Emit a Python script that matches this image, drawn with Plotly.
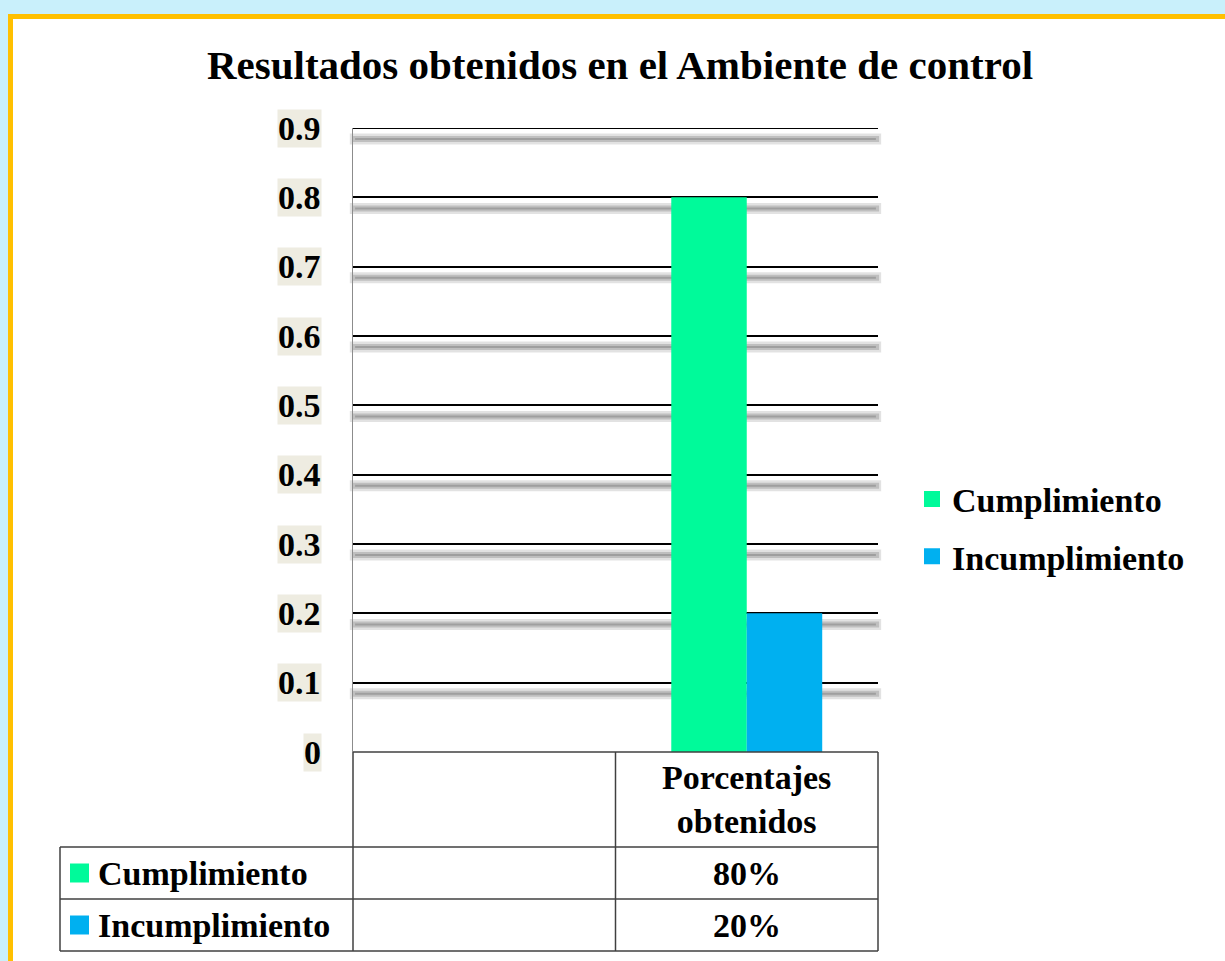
import plotly.graph_objects as go

# ---- data ----
categories = [" ", "Porcentajes obtenidos"]
series_names = ["Cumplimiento", "Incumplimiento"]
cumplimiento = [None, 0.80]
incumplimiento = [None, 0.20]
y_ticks = [0, 0.1, 0.2, 0.3, 0.4, 0.5, 0.6, 0.7, 0.8, 0.9]
y_tick_labels = ["0", "0.1", "0.2", "0.3", "0.4", "0.5", "0.6", "0.7", "0.8", "0.9"]
title_text = "Resultados obtenidos en el Ambiente de control"

colors = ["#00FA9A", "#00B0F0"]
FONT = "Liberation Serif, Times New Roman, serif"

W, H = 1225, 961
L, R, T, B = 353, 878, 128, 752  # plot area in px


def px2x(px):
    return (px - L) / (R - L)


def px2y(py):
    return (B - py) / (B - T)


fig = go.Figure()
values = [cumplimiento, incumplimiento]
for name, vals, col in zip(series_names, values, colors):
    fig.add_trace(go.Bar(x=categories, y=vals, name=name, marker=dict(color=col, line=dict(width=0)),
                         showlegend=False, legendgroup=name))
    fig.add_trace(go.Scatter(x=[None], y=[None], mode="markers", name=name, legendgroup=name,
                             marker=dict(symbol="square", size=17, color=col), showlegend=True))

shapes = []
# frame: light blue glow + orange border
shapes.append(dict(type="rect", xref="paper", yref="paper", x0=px2x(0), x1=px2x(W), y0=px2y(0), y1=px2y(14),
                   fillcolor="#C9F0FB", line=dict(width=0), layer="below"))
shapes.append(dict(type="rect", xref="paper", yref="paper", x0=px2x(0), x1=px2x(8), y0=px2y(0), y1=px2y(H),
                   fillcolor="#C9F0FB", line=dict(width=0), layer="below"))
shapes.append(dict(type="line", xref="paper", yref="paper", x0=px2x(8), x1=px2x(W), y0=px2y(16.5), y1=px2y(16.5),
                   line=dict(color="#FFC000", width=5), layer="below"))
shapes.append(dict(type="line", xref="paper", yref="paper", x0=px2x(10.5), x1=px2x(10.5), y0=px2y(14), y1=px2y(H),
                   line=dict(color="#FFC000", width=5), layer="below"))

# gridline shadows
for t in y_ticks[1:]:
    shapes.append(dict(type="line", xref="paper", yref="y", x0=-0.006, x1=1.006, y0=t - 0.016, y1=t - 0.016,
                       line=dict(color="rgba(160,160,160,0.3)", width=11), layer="below"))
    shapes.append(dict(type="line", xref="paper", yref="y", x0=-0.002, x1=1.002, y0=t - 0.016, y1=t - 0.016,
                       line=dict(color="rgba(140,140,140,0.4)", width=6), layer="below"))
    shapes.append(dict(type="line", xref="paper", yref="y", x0=0.004, x1=0.996, y0=t - 0.016, y1=t - 0.016,
                       line=dict(color="rgba(120,120,120,0.45)", width=2), layer="below"))
# top gridline at the range edge
shapes.append(dict(type="line", xref="paper", yref="y", x0=0, x1=1, y0=y_ticks[-1], y1=y_ticks[-1],
                   line=dict(color="black", width=2), layer="below"))

# data table lines
tc = "#404040"
y_hdr = px2y(847)
y_r1 = px2y(899)
y_r2 = px2y(951)
x_left = px2x(60)
for xv in [0, 0.5, 1]:
    shapes.append(dict(type="line", xref="paper", yref="paper", x0=xv, x1=xv, y0=0, y1=y_r2,
                       line=dict(color=tc, width=1.5)))
shapes.append(dict(type="line", xref="paper", yref="paper", x0=x_left, x1=x_left, y0=y_hdr, y1=y_r2,
                   line=dict(color=tc, width=1.5)))
for yv in [y_hdr, y_r1, y_r2]:
    shapes.append(dict(type="line", xref="paper", yref="paper", x0=x_left, x1=1, y0=yv, y1=yv,
                       line=dict(color=tc, width=1.5)))
shapes.append(dict(type="line", xref="paper", yref="paper", x0=0, x1=1, y0=0, y1=0,
                   line=dict(color=tc, width=1.5)))

annotations = []
# y tick labels with beige boxes
for t, lab in zip(y_ticks, y_tick_labels):
    annotations.append(dict(x=0, xref="paper", y=t, yref="y", text=lab, showarrow=False,
                            xanchor="right", yanchor="middle", xshift=-31,
                            bgcolor="#EEECE1", borderpad=0,
                            font=dict(family=FONT, size=34, color="black", weight="bold")))

# table header (category label)
annotations.append(dict(x=categories[1], xref="x", y=(0 + y_hdr) / 2, yref="paper",
                        text="Porcentajes<br>obtenidos", showarrow=False, xanchor="center", yanchor="middle",
                        font=dict(family=FONT, size=34, color="black", weight="bold")))
row_y = [(y_hdr + y_r1) / 2, (y_r1 + y_r2) / 2]
for name, vals, col, ry in zip(series_names, values, colors, row_y):
    # legend key in table
    shapes.append(dict(type="rect", xref="paper", yref="paper", x0=px2x(70), x1=px2x(89),
                       y0=ry - 9.5 / (B - T), y1=ry + 9.5 / (B - T), fillcolor=col, line=dict(width=0)))
    annotations.append(dict(x=px2x(96), xref="paper", y=ry, yref="paper", text=name, showarrow=False,
                            xanchor="left", yanchor="middle",
                            font=dict(family=FONT, size=34, color="black", weight="bold")))
    annotations.append(dict(x=categories[1], xref="x", y=ry, yref="paper", text=f"{vals[1]:.0%}",
                            showarrow=False, xanchor="center", yanchor="middle",
                            font=dict(family=FONT, size=34, color="black", weight="bold")))

fig.update_layout(
    width=W, height=H, autosize=False,
    margin=dict(l=L, r=W - R, t=T, b=H - B, pad=0),
    paper_bgcolor="white", plot_bgcolor="white",
    barmode="group", bargap=0.425, bargroupgap=0,
    title=dict(text=title_text, x=620 / W, xanchor="center", y=1 - 65 / H, yanchor="middle",
               yref="container", xref="container",
               font=dict(family=FONT, size=41, color="black", weight="bold")),
    xaxis=dict(type="category", categoryorder="array", categoryarray=categories, range=[-0.5, 1.5],
               showticklabels=False, showgrid=False, zeroline=False, showline=False, ticks=""),
    yaxis=dict(range=[0, 0.9], tickvals=y_ticks, showticklabels=False, showgrid=True,
               gridcolor="black", gridwidth=2, zeroline=False, showline=True, linecolor="#8C8C8C",
               linewidth=1, ticks=""),
    legend=dict(x=px2x(912), xanchor="left", y=px2y(528), yanchor="middle",
                font=dict(family=FONT, size=34, color="black", weight="bold"),
                traceorder="grouped", tracegroupgap=10, bgcolor="rgba(0,0,0,0)"),
    shapes=shapes, annotations=annotations,
)

fig.write_html("out.html", config={"displayModeBar": False},
               post_script="document.body.style.margin='0';document.body.style.overflow='hidden';")
